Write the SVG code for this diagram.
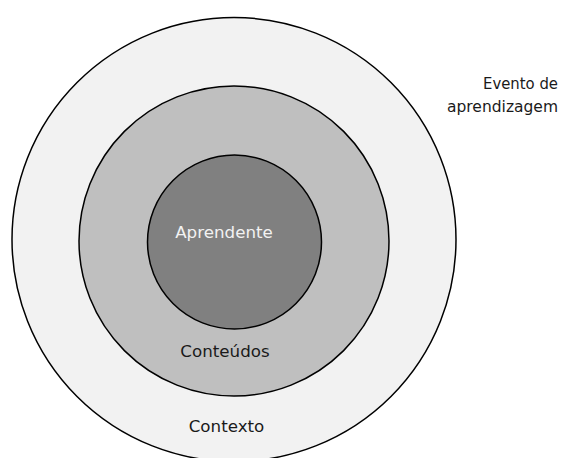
<svg xmlns="http://www.w3.org/2000/svg" width="571" height="458" viewBox="0 0 571 458">
<style>
.ring{stroke:#000;stroke-width:1.5}
.t{font-family:"DejaVu Sans",Verdana,sans-serif;font-size:16.7px;fill:#1a1a1a}
</style>
<rect width="571" height="458" fill="#fff"/>
<g id="contexto">
<circle class="ring" cx="234" cy="239.5" r="222" fill="#f2f2f2"/>
<text class="t" x="226.5" y="432" text-anchor="middle">Contexto</text>
</g>
<g id="conteudos">
<circle class="ring" cx="234" cy="241" r="155" fill="#bfbfbf"/>
<text class="t" x="225" y="357" text-anchor="middle">Conteúdos</text>
</g>
<g id="aprendente">
<circle class="ring" cx="234.5" cy="242" r="87" fill="#808080"/>
<text class="t" x="224" y="238" text-anchor="middle" style="fill:#f2f2f2">Aprendente</text>
</g>
<g id="evento">
<text class="t" x="483" y="89" textLength="75" lengthAdjust="spacingAndGlyphs">Evento de</text>
<text class="t" x="447" y="112" textLength="111" lengthAdjust="spacingAndGlyphs">aprendizagem</text>
</g>
<g id="connectors"/>
</svg>
